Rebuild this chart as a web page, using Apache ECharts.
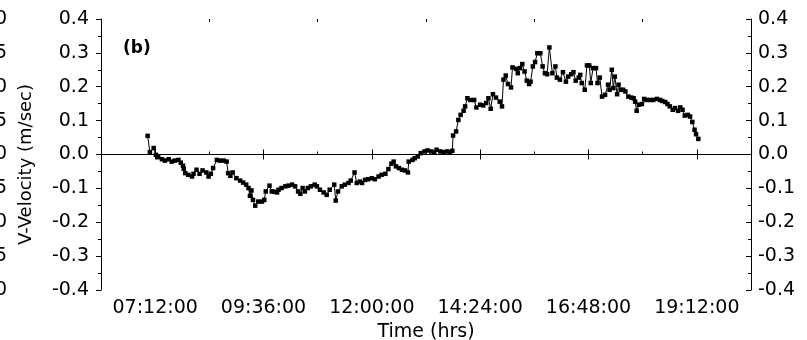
<!DOCTYPE html>
<html>
<head>
<meta charset="utf-8">
<script src="https://cdn.jsdelivr.net/npm/echarts@6/dist/echarts.min.js"></script>
<style>
  html, body { margin: 0; padding: 0; background: #ffffff; }
  #chart { width: 807px; height: 340px; }
</style>
</head>
<body>
<div id="chart"></div>
<script>
// Time in minutes since midnight
const times = [
  422, 425, 430, 433, 436, 441, 445, 450, 454, 458,
  463, 466, 469, 470, 472, 476, 481, 483, 487, 491,
  495, 500, 503, 506, 509, 514, 518, 523, 527, 529,
  532, 535, 540, 545, 549, 553, 556, 558, 560, 562,
  565, 569, 574, 577, 579, 584, 587, 590, 594, 596,
  600, 605, 609, 614, 618, 622, 625, 628, 631, 635,
  639, 644, 647, 651, 656, 660, 664, 670, 672, 675,
  680, 684, 689, 692, 697, 700, 704, 707, 711, 715,
  720, 724, 729, 733, 738, 742, 746, 749, 752, 756,
  760, 764, 768, 769, 774, 777, 781, 785, 790, 794,
  799, 803, 806, 811, 815, 820, 824, 827, 828, 832,
  835, 838, 842, 844, 847, 851, 856, 859, 864, 868,
  872, 875, 878, 881, 885, 890, 893, 895, 898, 901,
  905, 907, 912, 914, 917, 920, 923, 926, 929, 931,
  934, 937, 940, 944, 947, 950, 953, 956, 960, 964,
  966, 970, 974, 978, 981, 985, 988, 991, 995, 997,
  999, 1003, 1006, 1009, 1011, 1014, 1018, 1020, 1023, 1026,
  1030, 1034, 1036, 1039, 1041, 1043, 1046, 1048, 1051, 1054,
  1057, 1061, 1065, 1068, 1070, 1072, 1075, 1079, 1082, 1085,
  1090, 1094, 1099, 1103, 1106, 1110, 1113, 1116, 1120, 1123,
  1127, 1130, 1133, 1136, 1140, 1143, 1146, 1149, 1151, 1154
];
// V-Velocity (m/sec)
const velocity = [
  0.055, 0.007, 0.019, -0.001, -0.008, -0.014, -0.018, -0.014, -0.021, -0.018,
  -0.016, -0.024, -0.033, -0.042, -0.055, -0.060, -0.065, -0.057, -0.045, -0.057,
  -0.047, -0.053, -0.065, -0.057, -0.040, -0.016, -0.018, -0.018, -0.021, -0.055,
  -0.063, -0.053, -0.070, -0.077, -0.083, -0.089, -0.099, -0.122, -0.106, -0.134,
  -0.151, -0.139, -0.139, -0.134, -0.109, -0.092, -0.109, -0.110, -0.112, -0.104,
  -0.099, -0.094, -0.092, -0.089, -0.094, -0.109, -0.116, -0.099, -0.109, -0.099,
  -0.094, -0.089, -0.094, -0.104, -0.112, -0.119, -0.104, -0.089, -0.136, -0.109,
  -0.094, -0.089, -0.084, -0.077, -0.053, -0.084, -0.080, -0.084, -0.075, -0.073,
  -0.070, -0.073, -0.065, -0.060, -0.057, -0.043, -0.027, -0.021, -0.035, -0.040,
  -0.045, -0.047, -0.053, -0.021, -0.016, -0.011, -0.006, 0.004, 0.009, 0.012,
  0.009, 0.006, 0.014, 0.009, 0.007, 0.009, 0.007, 0.011, 0.056, 0.068,
  0.102, 0.117, 0.129, 0.142, 0.166, 0.161, 0.161, 0.139, 0.147, 0.145,
  0.152, 0.166, 0.135, 0.178, 0.168, 0.156, 0.142, 0.221, 0.233, 0.208,
  0.198, 0.257, 0.253, 0.240, 0.255, 0.267, 0.245, 0.218, 0.208, 0.215,
  0.260, 0.273, 0.299, 0.299, 0.260, 0.240, 0.237, 0.316, 0.240, 0.260,
  0.227, 0.221, 0.243, 0.215, 0.230, 0.237, 0.243, 0.218, 0.227, 0.235,
  0.211, 0.191, 0.263, 0.263, 0.211, 0.255, 0.255, 0.211, 0.227, 0.171,
  0.176, 0.206, 0.191, 0.250, 0.196, 0.230, 0.178, 0.206, 0.191, 0.191,
  0.186, 0.171, 0.168, 0.166, 0.156, 0.129, 0.147, 0.149, 0.164, 0.161,
  0.161, 0.161, 0.164, 0.161, 0.158, 0.155, 0.149, 0.142, 0.132, 0.137,
  0.129, 0.139, 0.132, 0.115, 0.117, 0.112, 0.096, 0.073, 0.060, 0.046
];
// Axis tick positions (minutes since midnight)
const xMin = 360, xMax = 1224;
const majorTicks = [432, 576, 720, 864, 1008, 1152];
const minorTicks = [504, 648, 792, 936, 1080];
const panelLabel = '(b)';
const xTitle = 'Time (hrs)';
const yTitle = 'V-Velocity (m/sec)';

const FONT = 'DejaVu Sans';
function fmtTime(m) {
  const h = Math.floor(m / 60), mm = Math.round(m % 60);
  return String(h).padStart(2, '0') + ':' + String(mm).padStart(2, '0') + ':00';
}
const data = times.map((t, i) => [t, velocity[i]]);

const chart = echarts.init(document.getElementById('chart'), null, { renderer: 'canvas' });
const black = '#000';
const lineStyle = { color: black, width: 1 };
chart.setOption({
  backgroundColor: '#ffffff',
  animation: false,
  textStyle: { fontFamily: FONT },
  grid: { left: 101, right: 56, top: 19, bottom: 50, containLabel: false, outerBoundsMode: 'none' },
  xAxis: [
    {
      type: 'value', min: xMin, max: xMax, position: 'bottom',
      axisLine: { show: true, lineStyle },
      axisTick: { show: true, inside: true, length: 5, lineStyle, customValues: majorTicks },
      axisLabel: { show: true, customValues: majorTicks, formatter: fmtTime, color: black, fontSize: 19, fontFamily: FONT, margin: 9 },
      splitLine: { show: false },
      name: xTitle, nameLocation: 'middle', nameGap: 25,
      nameTextStyle: { color: black, fontSize: 19, fontFamily: FONT }
    },
    {
      type: 'value', min: xMin, max: xMax, position: 'bottom',
      axisLine: { show: false },
      axisTick: { show: true, inside: true, length: 3, lineStyle, customValues: minorTicks },
      axisLabel: { show: false }, splitLine: { show: false }
    },
    {
      type: 'value', min: xMin, max: xMax, position: 'top',
      axisLine: { show: true, lineStyle },
      axisTick: { show: true, inside: true, length: 5, lineStyle, customValues: majorTicks },
      axisLabel: { show: false }, splitLine: { show: false }
    },
    {
      type: 'value', min: xMin, max: xMax, position: 'top',
      axisLine: { show: false },
      axisTick: { show: true, inside: true, length: 3, lineStyle, customValues: minorTicks },
      axisLabel: { show: false }, splitLine: { show: false }
    }
  ],
  yAxis: [
    {
      type: 'value', min: -0.4, max: 0.4, interval: 0.1, position: 'left',
      axisLine: { show: true, lineStyle },
      axisTick: { show: true, inside: false, length: 5, lineStyle },
      minorTick: { show: true, splitNumber: 2, length: 3, lineStyle },
      axisLabel: { formatter: v => v.toFixed(1), color: black, fontSize: 19, fontFamily: FONT, margin: 12 },
      splitLine: { show: false },
      name: yTitle, nameLocation: 'middle', nameGap: 66,
      nameTextStyle: { color: black, fontSize: 18, fontFamily: FONT, padding: [0, 20, 0, 0] }
    },
    {
      type: 'value', min: -0.4, max: 0.4, interval: 0.1, position: 'right',
      axisLine: { show: true, lineStyle },
      axisTick: { show: true, inside: true, length: 5, lineStyle },
      minorTick: { show: true, splitNumber: 2, length: 3, lineStyle },
      axisLabel: { formatter: v => v.toFixed(1), color: black, fontSize: 19, fontFamily: FONT, margin: 7 },
      splitLine: { show: false }
    },
    {
      // remnant of the neighbouring panel's axis, cut off by the left edge
      type: 'value', min: -0.2, max: 0.2, interval: 0.05, position: 'left', offset: 94,
      axisLine: { show: false }, axisTick: { show: false },
      axisLabel: { formatter: v => v.toFixed(2), color: black, fontSize: 19, fontFamily: FONT, margin: 0 },
      splitLine: { show: false }
    }
  ],
  graphic: [
    { type: 'text', left: 123, top: 40, style: { text: panelLabel, fill: black, font: 'bold 17px "DejaVu Sans"' } }
  ],
  series: [
    {
      type: 'line', name: 'V-Velocity', xAxisIndex: 0, yAxisIndex: 0,
      data: data,
      symbol: 'rect', symbolSize: 4.5, showSymbol: true,
      itemStyle: { color: black },
      lineStyle: { color: black, width: 1 },
      z: 5,
      markLine: {
        silent: true, symbol: ['none', 'none'], label: { show: false },
        lineStyle: { color: black, type: 'solid', width: 1.2 },
        data: [{ yAxis: 0 }]
      }
    }
  ]
});
</script>
</body>
</html>
